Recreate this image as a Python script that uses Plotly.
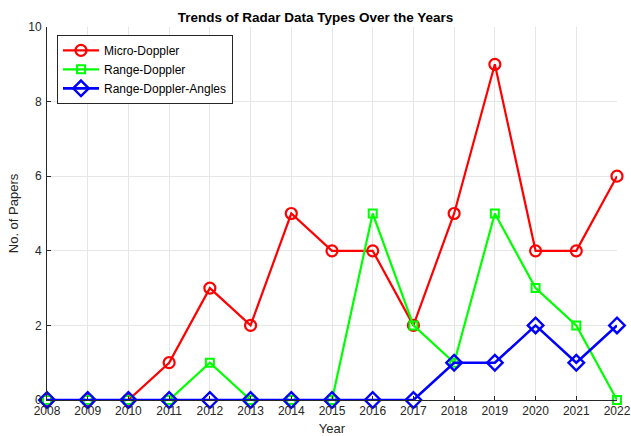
import plotly.graph_objects as go

years = list(range(2008, 2023))
micro_doppler = [0, 0, 0, 1, 3, 2, 5, 4, 4, 2, 5, 9, 4, 4, 6]
range_doppler = [0, 0, 0, 0, 1, 0, 0, 0, 5, 2, 1, 5, 3, 2, 0]
range_doppler_angles = [0, 0, 0, 0, 0, 0, 0, 0, 0, 0, 1, 1, 2, 1, 2]

fig = go.Figure()
fig.add_trace(go.Scatter(x=years, y=micro_doppler, name="Micro-Doppler", mode="lines+markers",
                         line=dict(color="#ff0000", width=2.2),
                         marker=dict(symbol="circle-open", size=11, color="#ff0000", line=dict(width=2.2)),
                         cliponaxis=False))
fig.add_trace(go.Scatter(x=years, y=range_doppler, name="Range-Doppler", mode="lines+markers",
                         line=dict(color="#00ff00", width=2.2),
                         marker=dict(symbol="square-open", size=8, color="#00ff00", line=dict(width=2)),
                         cliponaxis=False))
fig.add_trace(go.Scatter(x=years, y=range_doppler_angles, name="Range-Doppler-Angles", mode="lines+markers",
                         line=dict(color="#0000ff", width=2.6),
                         marker=dict(symbol="diamond-open", size=12, color="#0000ff", line=dict(width=2.4)),
                         cliponaxis=False))

fig.update_layout(
    width=631, height=436,
    margin=dict(l=47, r=14, t=27, b=36, autoexpand=False),
    paper_bgcolor="white", plot_bgcolor="white",
    font=dict(family="Liberation Sans, Arial, sans-serif", size=12, color="#262626"),
    title=dict(text="<b>Trends of Radar Data Types Over the Years</b>", x=0.5, xanchor="center",
               y=0.961, yanchor="middle", font=dict(size=13.5, color="black")),
    xaxis=dict(range=[2008, 2022], tickmode="array", tickvals=years, ticktext=[str(y) for y in years],
               showgrid=True, gridcolor="#e6e6e6", gridwidth=1, zeroline=False, automargin=False,
               showline=True, linecolor="#262626", linewidth=1, ticks="inside", ticklen=4,
               tickcolor="#262626", mirror=False, ticklabeloverflow="allow",
               title=dict(text="Year", standoff=6, font=dict(size=13))),
    yaxis=dict(range=[0, 10], tickvals=[0, 2, 4, 6, 8, 10], automargin=False,
               showgrid=True, gridcolor="#e6e6e6", gridwidth=1, zeroline=False,
               showline=True, linecolor="#262626", linewidth=1, ticks="inside", ticklen=4,
               tickcolor="#262626", ticklabelstandoff=2,
               title=dict(text="No. of Papers", standoff=6, font=dict(size=13))),
    legend=dict(x=0.0175, y=0.979, xanchor="left", yanchor="top", bgcolor="white",
                bordercolor="#262626", borderwidth=1, font=dict(size=12, color="black"),
                tracegroupgap=0, itemwidth=36),
    showlegend=True,
)

fig.write_html("out.html", config={"displayModeBar": False},
               post_script="document.body.style.margin='0px';document.body.style.overflow='hidden';")
